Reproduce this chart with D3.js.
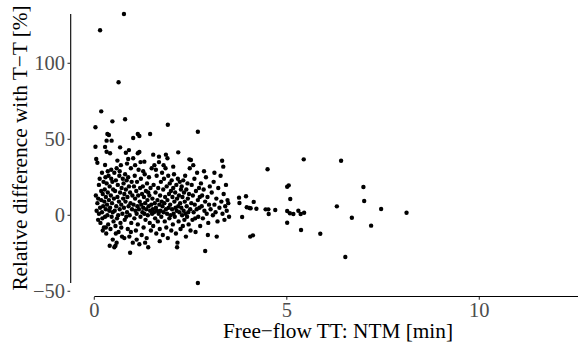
<!DOCTYPE html>
<html><head><meta charset="utf-8">
<script src="https://cdn.jsdelivr.net/npm/d3@7"></script>
<style>body{margin:0;background:#fff}svg{display:block}</style>
</head><body><svg id="c" width="578" height="347"></svg>
<script>
// Free-flow TT: NTM [min]  and  Relative difference with T-T [%]
const ntm = [
0.03,0.03,0.05,0.08,0.15,0.18,0.04,0.06,0.08,0.10,0.12,0.12,0.14,0.15,0.16,0.18,0.18,0.20,0.20,0.21,0.22,0.23,0.24,0.25,0.10,0.22,
0.28,0.32,0.34,0.38,0.32,0.45,0.41,0.28,0.47,0.26,0.27,0.28,0.29,0.30,0.30,0.31,0.32,0.33,0.34,0.35,0.36,0.37,0.38,0.39,0.40,0.40,0.41,0.42,0.43,0.44,0.45,0.46,0.47,0.48,0.48,0.49,0.50,0.35,0.44,0.30,
0.63,0.67,0.52,0.55,0.58,0.51,0.52,0.53,0.54,0.55,0.56,0.57,0.58,0.59,0.60,0.61,0.62,0.63,0.64,0.65,0.66,0.67,0.68,0.69,0.70,0.71,0.72,0.73,0.74,0.75,0.60,0.56,0.70,0.66,
0.77,0.80,0.82,0.90,0.93,0.76,0.77,0.78,0.79,0.80,0.81,0.82,0.83,0.84,0.85,0.86,0.87,0.88,0.89,0.90,0.91,0.92,0.93,0.94,0.95,0.96,0.97,0.98,0.99,1.00,0.85,0.78,0.95,0.88,
1.01,1.13,1.17,1.01,1.13,1.17,1.02,1.03,1.04,1.05,1.06,1.07,1.08,1.09,1.10,1.11,1.12,1.13,1.14,1.15,1.16,1.17,1.18,1.19,1.20,1.21,1.22,1.23,1.24,1.25,1.06,1.20,1.10,
1.45,1.30,1.26,1.27,1.28,1.29,1.30,1.31,1.32,1.33,1.34,1.35,1.36,1.37,1.38,1.39,1.40,1.41,1.42,1.43,1.44,1.45,1.46,1.47,1.48,1.49,1.50,1.32,1.40,1.27,
1.53,1.68,1.51,1.52,1.53,1.54,1.55,1.56,1.57,1.58,1.59,1.60,1.61,1.62,1.63,1.64,1.65,1.66,1.67,1.68,1.69,1.70,1.71,1.72,1.73,1.74,1.75,1.60,1.70,
1.86,1.90,1.91,1.76,1.77,1.78,1.79,1.80,1.81,1.82,1.83,1.84,1.85,1.86,1.87,1.88,1.89,1.90,1.91,1.92,1.93,1.94,1.95,1.96,1.97,1.98,1.99,2.00,1.80,
2.18,2.01,2.02,2.03,2.04,2.05,2.06,2.07,2.08,2.09,2.10,2.11,2.12,2.13,2.14,2.15,2.16,2.17,2.18,2.19,2.20,2.21,2.22,2.23,2.24,2.25,2.05,2.15,
2.47,2.51,2.26,2.27,2.28,2.29,2.30,2.31,2.32,2.33,2.34,2.35,2.36,2.37,2.38,2.39,2.40,2.41,2.42,2.43,2.44,2.45,2.46,2.48,2.49,2.50,
2.69,2.69,2.52,2.53,2.55,2.56,2.58,2.60,2.61,2.63,2.64,2.66,2.67,2.69,2.70,2.72,2.73,2.75,2.57,2.62,2.74,
2.88,2.77,2.79,2.80,2.82,2.84,2.86,2.88,2.90,2.92,2.94,2.96,2.98,3.00,2.85,2.95,
3.32,3.35,3.46,3.18,3.02,3.05,3.08,3.10,3.12,3.15,3.17,3.20,3.22,3.25,3.28,3.30,3.33,3.36,3.38,3.40,3.42,3.44,3.48,3.50,3.12,
3.76,3.77,3.94,3.96,4.03,4.06,4.14,4.21,3.84,4.05,4.12,4.50,4.45,4.52,4.53,4.70,5.01,5.05,5.09,5.01,5.08,5.17,5.30,5.36,5.45,5.01,5.37,5.44,5.87,6.30,6.41,6.52,6.69,6.99,7.01,7.19,7.45,8.11
];
const relDiff = [
57.9,45.1,37,34.6,121.7,68.4,13,3,8,-3,20,1,24,5,-5,16,10,2,28,-2,14,6,22,-8,11,-10,
45,41.8,53.5,52.8,49.1,49.1,40.8,33.1,61.8,9,17,-1,25,4,12,-12,21,7,0,15,-6,26,10,3,-20,19,5,-9,13,30,-1,8,22,-16,2,17,-4,29,24,-8,
87.5,44.7,-21,-20,-18,11,28,3,16,-7,23,6,31,-2,12,20,0,-11,9,26,4,15,-5,33,7,18,-14,1,24,11,36,-12,-8,29,
132.4,63.2,41.2,42.9,-24.6,21,5,14,-3,27,9,17,-1,23,2,12,-9,25,6,19,-14,0,15,8,31,-5,22,4,13,-18,34,-15,-11,37,
50.9,53.5,52.2,37.5,40.8,41.6,7,19,-2,26,11,3,-10,16,1,22,6,-6,13,30,4,-19,9,18,-1,24,7,-13,14,2,33,35,-16,
53.5,35.3,19,5,-8,12,1,27,8,-3,16,4,-15,21,10,0,-21,6,25,13,-5,3,18,-10,7,31,1,-18,15,29,
39.9,38.6,11,4,-7,20,2,33,8,-2,15,5,-12,26,3,10,-4,18,1,35,7,-9,13,3,22,-1,9,30,-17,
39.9,37.5,59.6,28,6,-13,17,2,24,8,-4,12,31,4,-8,19,1,10,-15,26,5,14,-2,21,7,0,16,-10,33,
41.4,23,4,12,-6,18,1,27,9,-1,15,5,-12,20,3,11,-18,24,6,-4,13,2,22,8,-9,17,32,-21,
36.8,36.4,5,19,0,12,-7,23,3,15,-3,9,26,1,-14,17,6,-1,21,11,2,-6,14,31,4,-10,
55,-44.5,8,20,-3,13,2,24,7,-11,16,4,28,10,-1,18,5,-7,33,-2,12,
-23.5,21,6,13,-2,17,3,9,25,1,12,-5,7,19,29,-13,
35.9,32,10,-14,4,15,0,22,7,2,11,-4,18,5,26,9,1,14,-3,6,20,3,8,-1,28,
11.6,8.1,12.5,5.3,4.8,4.6,8.8,4.3,-1.1,-14,-13.2,30.3,3.9,3.9,0.9,3.5,18.8,19.7,10.7,2.8,1.3,0.9,3.0,0.9,1.7,-4.9,-9.7,36.8,-12.1,5.9,35.9,-27.4,-1.6,18.6,9.4,-6.8,4.1,1.7
];
const xTicks = [0, 5, 10];
const yTicks = [-50, 0, 50, 100];
const xTitle = "Free\u2212flow TT: NTM [min]";
const yTitle = "Relative difference with T\u2212T [%]";

const FONT = "'Liberation Serif', Tinos, 'Times New Roman', 'DejaVu Serif', serif";
const svg = d3.select("#c");
const x = d3.scaleLinear().domain([0, 10]).range([94.3, 479.3]);
const y = d3.scaleLinear().domain([-50, 100]).range([291.3, 63.3]);
const data = ntm.map((v, i) => ({x: v, y: relDiff[i]}));

// y axis line (capped to data range)
const yExt = d3.extent(relDiff);
svg.append("line").attr("x1", 70.7).attr("x2", 70.7)
  .attr("y1", y(yExt[1])).attr("y2", y(yExt[0]))
  .attr("stroke", "#000").attr("stroke-width", 1.1);
const yg = svg.append("g");
yTicks.forEach(t => {
  yg.append("line").attr("x1", 67.5).attr("x2", 70.2).attr("y1", y(t)).attr("y2", y(t))
    .attr("stroke", "#333").attr("stroke-width", 1.1);
  yg.append("text").attr("x", 65).attr("y", y(t)).attr("dy", "0.35em")
    .attr("text-anchor", "end").attr("font-family", FONT).attr("font-size", 20.5).attr("fill", "#4d4d4d")
    .text(t < 0 ? "\u2212" + Math.abs(t) : t);
});

// x axis line
svg.append("line").attr("x1", x(0)).attr("x2", 578).attr("y1", 296.5).attr("y2", 296.5)
  .attr("stroke", "#000").attr("stroke-width", 1.1);
const xg = svg.append("g");
xTicks.forEach(t => {
  xg.append("line").attr("x1", x(t)).attr("x2", x(t)).attr("y1", 297).attr("y2", 299.7)
    .attr("stroke", "#333").attr("stroke-width", 1.1);
  xg.append("text").attr("x", x(t)).attr("y", 317).attr("text-anchor", "middle")
    .attr("font-family", FONT).attr("font-size", 20.5).attr("fill", "#4d4d4d").text(t);
});

// titles
svg.append("text").attr("x", 338).attr("y", 338).attr("text-anchor", "middle")
  .attr("font-family", FONT).attr("font-size", 21.3).attr("fill", "#000").text(xTitle);
svg.append("text").attr("transform", "translate(27,148) rotate(-90)").attr("text-anchor", "middle")
  .attr("font-family", FONT).attr("font-size", 21.3).attr("fill", "#000").text(yTitle);

// points
svg.append("g").selectAll("circle").data(data).join("circle")
  .attr("cx", d => x(d.x)).attr("cy", d => y(d.y)).attr("r", 2.2).attr("fill", "#000");
</script></body></html>
